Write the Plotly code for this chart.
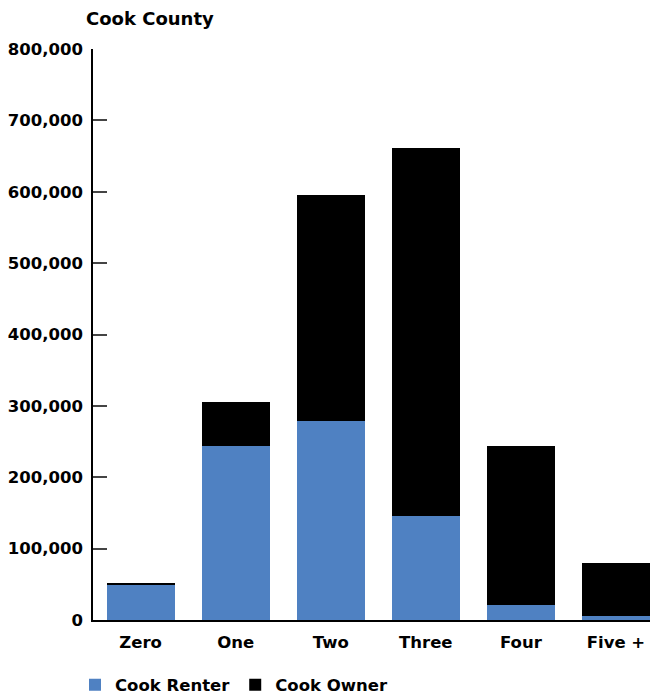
import plotly.graph_objects as go

categories = ["Zero", "One", "Two", "Three", "Four", "Five +"]
renter = [48500, 244000, 279000, 146000, 21000, 6000]
owner = [3500, 61000, 316000, 515000, 223000, 74000]
tick_vals = [0, 100000, 200000, 300000, 400000, 500000, 600000, 700000, 800000]
tick_text = ["0", "100,000", "200,000", "300,000", "400,000", "500,000", "600,000", "700,000", "800,000"]

FONT = "DejaVu Sans"
# the page body adds an 8px offset; the figure is sized to compensate
W, H = 650, 690

fig = go.Figure()
fig.add_trace(go.Bar(name="Cook Renter", x=categories, y=renter, marker=dict(color="#4f81c2", line=dict(width=0))))
fig.add_trace(go.Bar(name="Cook Owner", x=categories, y=owner, marker=dict(color="#000000", line=dict(width=0))))

fig.update_layout(
    width=W, height=H,
    barmode="stack", bargap=0.284,
    plot_bgcolor="white", paper_bgcolor="white",
    margin=dict(l=85, r=0, t=41, b=78, autoexpand=False),
    font=dict(family=FONT, size=16, color="black"),
    title=dict(text="<b>Cook County</b>", x=78/W, xanchor="left", xref="container",
               y=1 - 11/H, yanchor="middle", yref="container",
               font=dict(family=FONT, size=18, color="black")),
    legend=dict(orientation="h", x=67/W, xanchor="left", xref="container",
                y=1 - 677/H, yanchor="middle", yref="container",
                font=dict(family=FONT, size=16.5, color="black"), traceorder="normal",
                itemwidth=30),
    showlegend=True,
)
fig.update_xaxes(range=[-0.5, 5.442], showline=True, linecolor="black", linewidth=1.5,
                 showgrid=False, ticks="", tickfont=dict(family=FONT, size=16.5, color="black"),
                 ticklabelstandoff=6, tickvals=list(range(6)), ticktext=["<b>%s</b>" % c for c in categories])
fig.update_yaxes(range=[0, 800000], showline=True, linecolor="black", linewidth=1.5,
                 showgrid=False, ticks="inside", ticklen=14, tickcolor="#444", tickwidth=1.5,
                 tickvals=tick_vals, ticktext=["<b>%s</b>" % t for t in tick_text],
                 tickfont=dict(family=FONT, size=16.5, color="black"), ticklabelstandoff=5,
                 zeroline=False)
fig.for_each_trace(lambda t: t.update(name="<b>%s</b>" % t.name))

fig.write_html("out.html")
